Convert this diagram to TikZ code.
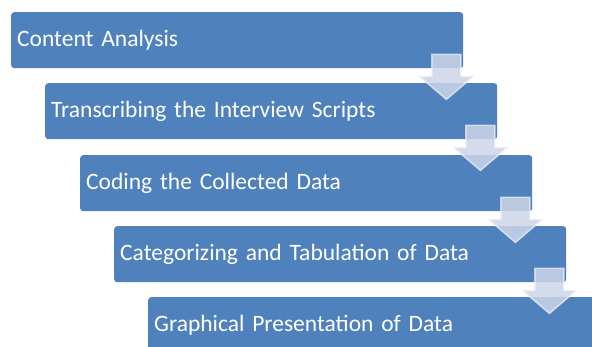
\documentclass[tikz,border=0pt]{standalone}
\usepackage{fontspec}
\setmainfont{Carlito}
\usetikzlibrary{calc}

\definecolor{stageblue}{RGB}{79,129,189}
\definecolor{arrowfill}{RGB}{205,214,232}

\begin{document}
\begin{tikzpicture}[x=1pt, y=-1pt,
  stage/.style={fill=stageblue, rounded corners=3pt, anchor=north west,
    text=white, text width=440pt, inner xsep=6pt, minimum height=56pt,
    align=left, font=\fontsize{23.5}{28}\selectfont},
  flowarrow/.style={fill=arrowfill, fill opacity=0.85,
    draw=white!70!arrowfill, draw opacity=0.7, line width=1.5pt}]

\clip (0,0) rectangle (592,347);

% ---------- STAGES ----------
\node[stage] (s1) at (11,12)  {Content Analysis};
\node[stage] (s2) at (45,83)  {Transcribing the Interview Scripts};
\node[stage] (s3) at (80,155) {Coding the Collected Data};
\node[stage] (s4) at (114,226) {Categorizing and Tabulation of Data};
\node[stage] (s5) at (148,297) {Graphical Presentation of Data};

% ---------- DOWN ARROWS ----------
\foreach \a in {1,2,3,4}{
  \coordinate (c\a) at ($(s\a.south east)+(-17,0)$);
  \draw[flowarrow] ($(c\a)+(-14.5,-14)$) -- ($(c\a)+(-14.5,8)$)
    -- ($(c\a)+(-27,8)$) -- ($(c\a)+(0,31)$) -- ($(c\a)+(27,8)$)
    -- ($(c\a)+(14.5,8)$) -- ($(c\a)+(14.5,-14)$) -- cycle;
}

\end{tikzpicture}
\end{document}
